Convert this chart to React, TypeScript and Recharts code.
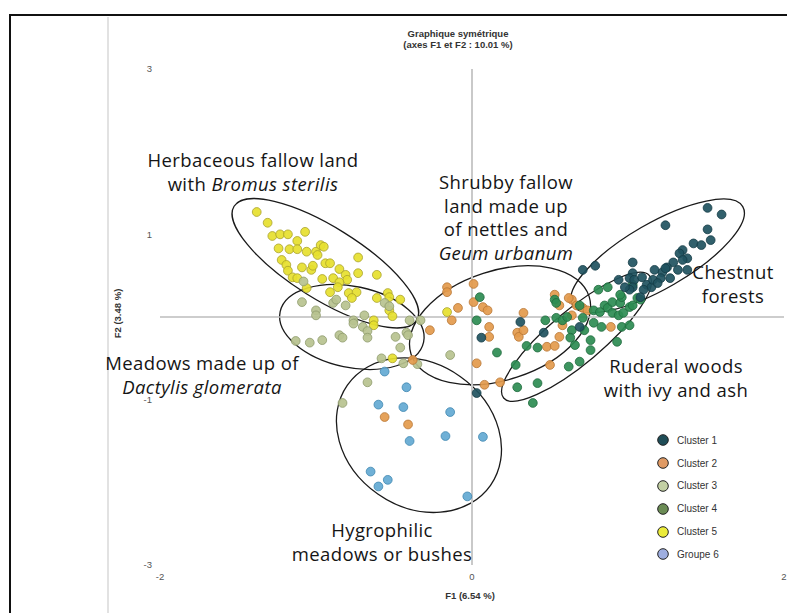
import { ScatterChart, Scatter, XAxis, YAxis, ReferenceLine, ReferenceArea } from "recharts";

// F1 / F2 coordinates
const cluster1: [number, number][] = [
  [1.51, 1.32], [1.6, 1.24], [1.24, 1.11], [1.51, 1.06], [1.53, 0.93], [1.42, 0.89], [1.47, 0.87],
  [1.35, 0.81], [1.33, 0.77], [1.38, 0.71], [1.35, 0.69], [1.29, 0.66], [1.25, 0.6], [1.22, 0.54],
  [1.24, 0.59], [1.17, 0.57], [1.32, 0.57], [1.38, 0.57], [1.03, 0.66], [0.79, 0.62], [0.71, 0.57],
  [1.27, 0.47], [1.21, 0.47], [1.03, 0.53], [1.01, 0.47], [1.04, 0.45], [1.03, 0.36], [1.12, 0.39],
  [1.15, 0.36], [1.1, 0.33], [1.08, 0.24], [1.01, 0.33], [0.98, 0.36], [1.16, 0.45], [1.09, 0.48],
  [1.19, 0.41], [0.94, 0.45], [0.03, -0.92], [0.06, -0.25], [0.31, -0.06], [0.46, -0.19], [0.69, -0.12],
];
const cluster2: [number, number][] = [
  [-0.16, 0.36], [-0.16, 0.3], [0.01, 0.4], [0.01, 0.18], [-0.09, 0.11], [-0.13, -0.04], [0.07, 0.12],
  [0.1, 0.08], [-0.27, -0.16], [0.11, -0.12], [0.11, -0.24], [0.03, -0.56], [0.08, -0.82], [0.18, -0.79],
  [0.29, -0.19], [0.3, -0.24], [0.33, -0.16], [0.33, 0.05], [0.48, -0.36], [0.53, -0.35], [0.5, -0.58],
  [0.58, -0.1], [0.56, -0.24], [0.64, 0.02], [0.64, 0.21], [0.71, 0.11], [0.74, 0.08], [0.89, -0.12],
  [0.56, 0.14], [0.62, 0.23], [0.53, 0.27], [0.67, 0.14], [-0.56, -1.21], [-0.41, -1.3], [-0.38, -0.52],
];
const cluster3: [number, number][] = [
  [-1.09, 0.18], [-1.13, -0.29], [-1.0, 0.08], [-1.0, 0.02], [-0.89, 0.17], [-0.87, 0.21], [-0.81, 0.14],
  [-0.76, -0.04], [-0.76, -0.08], [-0.69, 0.02], [-0.7, -0.12], [-0.67, -0.17], [-0.67, -0.25],
  [-0.85, -0.22], [-0.83, -0.25], [-1.04, -0.31], [-0.96, -0.28], [-0.56, 0.17], [-0.53, 0.13],
  [-0.49, -0.24], [-0.58, -0.5], [-0.42, -0.19], [-0.33, -0.04], [-0.44, -0.56], [-0.35, -0.57],
  [-0.67, -0.79], [-0.83, -1.04], [-0.14, -0.46], [-0.46, -0.37], [-0.4, -0.04], [-0.41, -0.22], [-1.08, 0.43],
];
const cluster4: [number, number][] = [
  [0.05, 0.24], [0.03, -0.04], [0.16, -0.43], [0.28, -0.58], [0.29, -0.85], [0.35, -0.35], [0.42, -0.37],
  [0.42, -0.8], [0.39, -1.04], [0.53, 0.21], [0.54, -0.01], [0.58, -0.04], [0.61, 0.0], [0.64, -0.16],
  [0.63, -0.25], [0.71, -0.01], [0.72, -0.16], [0.62, -0.6], [0.69, -0.54], [0.76, -0.28], [0.76, -0.4],
  [0.78, -0.07], [0.83, -0.12], [0.85, 0.14], [0.87, 0.11], [0.93, -0.3], [0.9, 0.18], [0.95, 0.17],
  [0.96, 0.24], [0.9, 0.05], [0.94, 0.02], [0.97, 0.05], [1.01, 0.12], [1.03, 0.14], [1.06, 0.23],
  [0.96, -0.12], [1.01, -0.1], [0.78, 0.08], [0.82, 0.06], [0.87, 0.36], [0.95, 0.27], [1.08, 0.21],
  [0.81, 0.33], [0.69, 0.14], [0.47, -0.04], [0.66, -0.34], [1.03, 0.39], [0.54, 0.17],
];
const cluster5: [number, number][] = [
  [-1.38, 1.27], [-1.31, 1.14], [-1.28, 0.98], [-1.23, 1.0], [-1.18, 1.0], [-1.07, 1.03], [-1.12, 0.92],
  [-1.24, 0.83], [-1.17, 0.82], [-1.12, 0.82], [-1.06, 0.79], [-1.0, 0.79], [-0.97, 0.87], [-0.95, 0.85],
  [-0.99, 0.75], [-1.22, 0.69], [-1.19, 0.63], [-1.18, 0.56], [-1.15, 0.48], [-1.09, 0.6], [-1.03, 0.57],
  [-1.02, 0.62], [-1.12, 0.47], [-0.94, 0.65], [-0.91, 0.65], [-0.85, 0.58], [-0.81, 0.51], [-0.8, 0.45],
  [-0.73, 0.72], [-0.73, 0.53], [-0.61, 0.51], [-0.96, 0.46], [-0.89, 0.47], [-0.85, 0.42], [-1.06, 0.35],
  [-0.91, 0.3], [-0.86, 0.36], [-0.79, 0.29], [-0.74, 0.3], [-0.77, 0.23], [-0.61, 0.23], [-0.54, 0.29],
  [-0.53, 0.24], [-0.46, 0.21], [-0.53, 0.08], [-0.51, 0.01], [-0.63, -0.04], [-0.63, -0.1], [-0.51, -0.5],
  [-0.16, 0.06],
];
const groupe6: [number, number][] = [
  [-0.56, -0.66], [-0.42, -0.85], [-0.6, -1.06], [-0.44, -1.09], [-0.14, -1.15], [-0.4, -1.5],
  [-0.17, -1.44], [0.07, -1.45], [-0.65, -1.87], [-0.54, -1.97], [-0.6, -2.05], [-0.03, -2.17],
];

const SERIES = [
  { name: "Cluster 1", pts: cluster1, fill: "#1f5360", stroke: "#143b45", legend: "#1f4d57" },
  { name: "Cluster 2", pts: cluster2, fill: "#e39a4c", stroke: "#b87635", legend: "#e09a64" },
  { name: "Cluster 3", pts: cluster3, fill: "#b7c28f", stroke: "#8e9a6c", legend: "#c3d0a4" },
  { name: "Cluster 4", pts: cluster4, fill: "#2c8c52", stroke: "#1f6b3d", legend: "#6b8c55" },
  { name: "Cluster 5", pts: cluster5, fill: "#e6e02e", stroke: "#a9a22c", legend: "#ecec3a" },
  { name: "Groupe 6", pts: groupe6, fill: "#63a9d2", stroke: "#3f86b0", legend: "#9eaee0" },
];
// draw order: pale groups first, dark ones on top
const DRAW_ORDER = [4, 2, 5, 1, 3, 0];

// ellipses: centre in F1/F2, semi-axes in F1 units, tilt in screen degrees
const ELLIPSES = [
  { cx: -0.94, cy: 0.65, a: 0.69, b: 0.23, angle: 32 },
  { cx: -0.77, cy: -0.12, a: 0.47, b: 0.26, angle: 12 },
  { cx: 0.18, cy: -0.1, a: 0.6, b: 0.35, angle: -18 },
  { cx: 1.19, cy: 0.74, a: 0.63, b: 0.21, angle: -30 },
  { cx: 0.67, cy: -0.24, a: 0.61, b: 0.17, angle: -40 },
  { cx: -0.34, cy: -1.43, a: 0.56, b: 0.46, angle: 35 },
];
const HALF = 0.5;

const LABELS = [
  { lines: [["Herbaceous fallow land"], ["with ", "Bromus sterilis"]], left: 90, top: 140, width: 310 },
  { lines: [["Shrubby fallow"], ["land made up"], ["of nettles and"], ["", "Geum urbanum"]], left: 393, top: 162, width: 210 },
  { lines: [["Chestnut"], ["forests"]], left: 660, top: 252, width: 130 },
  { lines: [["Meadows made up of"], ["", "Dactylis glomerata"]], left: 49, top: 343, width: 290 },
  { lines: [["Ruderal woods"], ["with ivy and ash"]], left: 568, top: 346, width: 200 },
  { lines: [["Hygrophilic"], ["meadows or bushes"]], left: 274, top: 510, width: 200 },
];

const X_TICKS = [-2, 0, 2];
const Y_TICKS = [-3, -1, 1, 3];

const tickStyle = { fontSize: 9.5, fill: "#555", fontFamily: "Liberation Sans, Arial, sans-serif" };

function ellipseShape(e: (typeof ELLIPSES)[number]) {
  return (props: any) => {
    const { x, y, width, height } = props;
    const unit = width / (2 * HALF);
    const px = x + width / 2;
    const py = y + height / 2;
    return (
      <ellipse
        cx={px}
        cy={py}
        rx={e.a * unit}
        ry={e.b * unit}
        transform={`rotate(${e.angle} ${px} ${py})`}
        fill="none"
        stroke="#1a1a1a"
        strokeWidth={1.3}
      />
    );
  };
}

export default function App() {
  const font = "Liberation Sans, Arial, sans-serif";
  return (
    <div style={{ position: "relative", width: 787, height: 605, overflow: "hidden", fontFamily: font }}>
      <div
        style={{
          position: "absolute", left: 1, top: 6, width: 786, height: 599, boxSizing: "border-box",
          borderTop: "2px solid #111", borderLeft: "2px solid #111",
        }}
      />
      <div style={{ position: "absolute", left: 99, top: 9, width: 2, height: 596, background: "#e2e2e2" }} />

      <ScatterChart
        width={787}
        height={605}
        margin={{ top: 61, right: 11, bottom: 18, left: 122 }}
        style={{ position: "absolute", left: 0, top: 0 }}
      >
        <XAxis
          type="number"
          dataKey="x"
          domain={[-2, 2]}
          ticks={X_TICKS}
          allowDataOverflow
          axisLine={false}
          tickLine={false}
          height={30}
          tick={tickStyle}
        />
        <YAxis
          type="number"
          dataKey="y"
          domain={[-3, 3]}
          ticks={Y_TICKS}
          allowDataOverflow
          axisLine={false}
          tickLine={false}
          width={30}
          tick={tickStyle}
        />
        <ReferenceLine x={0} stroke="#c9c9c9" strokeWidth={2} />
        <ReferenceLine y={0} stroke="#bdbdbd" strokeWidth={1.5} />
        {DRAW_ORDER.map((i) => {
          const s = SERIES[i];
          return (
            <Scatter
              key={s.name}
              name={s.name}
              data={s.pts.map(([x, y]) => ({ x, y }))}
              isAnimationActive={false}
              shape={(p: any) => (
                <circle cx={p.cx} cy={p.cy} r={4.4} fill={s.fill} stroke={s.stroke} strokeWidth={0.8} fillOpacity={0.92} />
              )}
            />
          );
        })}
        {ELLIPSES.map((e, i) => (
          <ReferenceArea
            key={i}
            x1={e.cx - HALF}
            x2={e.cx + HALF}
            y1={e.cy - HALF}
            y2={e.cy + HALF}
            ifOverflow="visible"
            shape={ellipseShape(e)}
          />
        ))}
      </ScatterChart>

      <div style={{ position: "absolute", left: 350, top: 20, width: 200, textAlign: "center", fontSize: 9.5, fontWeight: "bold", color: "#333", lineHeight: "11px" }}>
        Graphique symétrique
        <br />
        (axes F1 et F2 : 10.01 %)
      </div>
      <div style={{ position: "absolute", left: 412, top: 582, width: 100, textAlign: "center", fontSize: 9.5, fontWeight: "bold", color: "#333" }}>
        F1 (6.54 %)
      </div>
      <div
        style={{
          position: "absolute", left: 59, top: 300, width: 100, textAlign: "center", fontSize: 9.5, fontWeight: "bold",
          color: "#333", transform: "rotate(-90deg)", transformOrigin: "50% 50%",
        }}
      >
        F2 (3.48 %)
      </div>

      {LABELS.map((l, i) => (
        <div
          key={i}
          style={{
            position: "absolute", left: l.left, top: l.top, width: l.width, textAlign: "center",
            fontFamily: "'Open Sans', sans-serif", fontSize: 18.5, letterSpacing: 0.4, lineHeight: "23.5px", color: "#151515",
          }}
        >
          {l.lines.map((ln, j) => (
            <div key={j}>
              {ln[0]}
              {ln[1] ? <i>{ln[1]}</i> : null}
            </div>
          ))}
        </div>
      ))}

      <div style={{ position: "absolute", left: 648, top: 421 }}>
        {SERIES.map((s) => (
          <div key={s.name} style={{ display: "flex", alignItems: "center", height: 22.8 }}>
            <svg width={14} height={14} style={{ marginRight: 7 }}>
              <circle cx={7} cy={7} r={5.3} fill={s.legend} stroke="#222" strokeWidth={1} />
            </svg>
            <span style={{ fontSize: 10, color: "#333" }}>{s.name}</span>
          </div>
        ))}
      </div>
    </div>
  );
}
